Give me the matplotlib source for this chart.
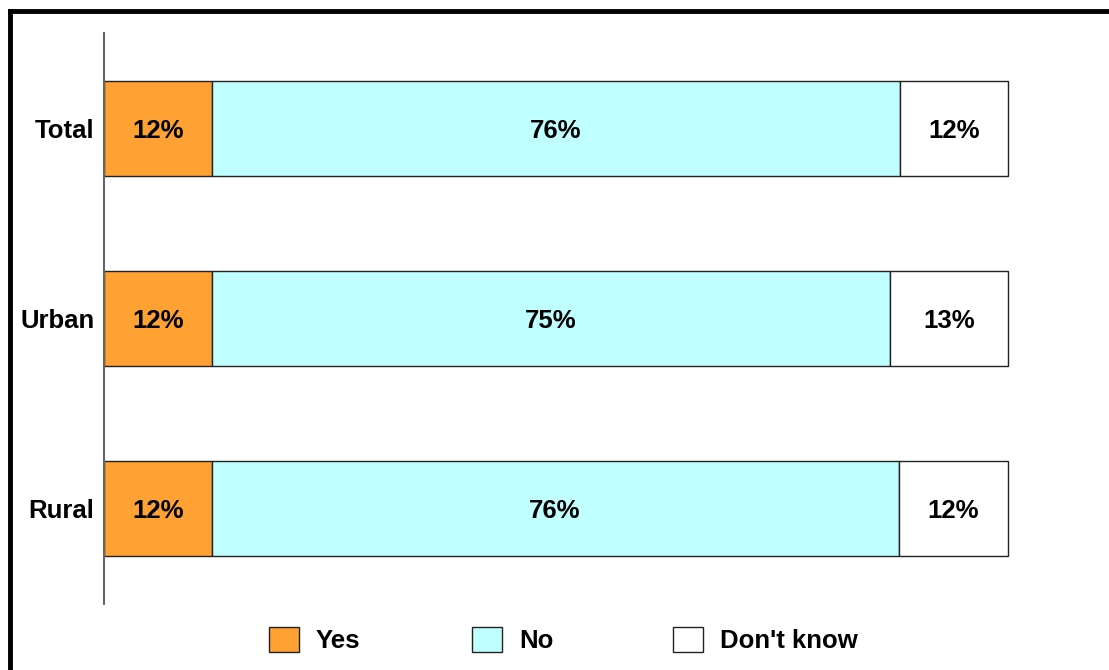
import matplotlib
matplotlib.use("Agg")
import matplotlib.pyplot as plt
from matplotlib.patches import Patch
from matplotlib.lines import Line2D

plt.rcParams['font.family'] = ['Liberation Sans', 'DejaVu Sans']

categories = ["Total", "Urban", "Rural"]
series_names = ["Yes", "No", "Don't know"]
yes_vals = [12, 11.9, 11.9]
no_vals = [76, 75, 76]
dk_vals = [12, 13.1, 12.1]
yes_labels = ["12%", "12%", "12%"]
no_labels = ["76%", "75%", "76%"]
dk_labels = ["12%", "13%", "12%"]
colors = ["#FFA233", "#C0FFFF", "#FFFFFF"]

FS = 18.5
W, H = 1109, 670
fig = plt.figure(figsize=(W / 100, H / 100), dpi=100)
ax = fig.add_axes([104 / W, 1 - 604 / H, 904 / W, (604 - 33) / H])

ypos = list(range(len(categories)))
left = [0] * len(categories)
for vals, labels, col in zip([yes_vals, no_vals, dk_vals],
                             [yes_labels, no_labels, dk_labels], colors):
    bars = ax.barh(ypos, vals, left=left, height=0.5, color=col,
                   edgecolor="#222222", linewidth=1.0, clip_on=False)
    for b, lab in zip(bars, labels):
        ax.text(b.get_x() + b.get_width() / 2, b.get_y() + b.get_height() / 2,
                lab, ha="center", va="center_baseline", fontsize=FS, fontweight="bold")
    left = [l + v for l, v in zip(left, vals)]

ax.set_xlim(0, 100)
ax.set_ylim(len(categories) - 0.5, -0.5)
ax.set_yticks(ypos)
ax.set_yticklabels(categories, fontsize=FS, fontweight="bold", va="center_baseline")
ax.tick_params(axis="y", length=0, pad=7)
ax.set_xticks([])
for s in ["top", "right", "bottom"]:
    ax.spines[s].set_visible(False)
ax.spines["left"].set_color("#666666")
ax.spines["left"].set_linewidth(1.5)

# legend entries, placed individually
legend_x = [269, 472, 673]
for name, col, lx in zip(series_names, colors, legend_x):
    h = Patch(facecolor=col, edgecolor="#222222", linewidth=1.0)
    fig.legend([h], [name], loc="center left", bbox_to_anchor=(lx / W, 1 - 640 / H),
               frameon=False, prop={"size": FS, "weight": "bold"},
               handlelength=1.15, handleheight=1.15, handletextpad=0.68,
               borderpad=0, borderaxespad=0)

# outer border (extends beyond the image on right and bottom)
fig.add_artist(Line2D([10 / W, 1.01], [1 - 11 / H, 1 - 11 / H], transform=fig.transFigure,
                      color="black", linewidth=3.5))
fig.add_artist(Line2D([10 / W, 10 / W], [1 - 11 / H, -0.01], transform=fig.transFigure,
                      color="black", linewidth=3.5))

fig.savefig("out.png", dpi=100)
